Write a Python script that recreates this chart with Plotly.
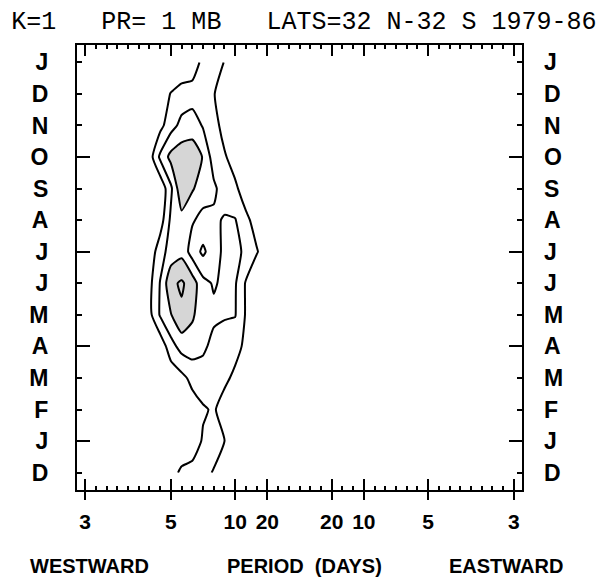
import plotly.graph_objects as go

# ---------------- data ----------------
title_text = "K=1   PR= 1 MB   LATS=32 N-32 S 1979-86"

month_index = list(range(14))
month_labels = ["D", "J", "F", "M", "A", "M", "J", "J", "A", "S", "O", "N", "D", "J"]
major_month_index = [1, 4, 7, 10]

period_tick_freqs = [-1/3, -1/5, -1/10, -1/20, 1/20, 1/10, 1/5, 1/3]
period_tick_labels = ["3", "5", "10", "20", "20", "10", "5", "3"]

# westward frequency bins (cycles/day, negative = westward), bins of 1/60 cpd
freq_bins = [-15/60, -14/60, -13/60, -12/60, -11/60, -10/60, -9/60,
             -8/60, -7/60, -6/60, -5/60, -4/60, -3/60, -2/60]

# power, one row per month (Dec 1978 ... Jan), one value per frequency bin
power_rows = [
    [0, 0, 0, 0.6, 1.2, 1.3, 1.2, 0.95, 0.5, 0, 0, 0, 0, 0],          # D
    [0, 0, 0, 0, 0.2, 0.5, 1.1, 1.3, 1.02, 0.4, 0, 0, 0, 0],          # J
    [0, 0, 0, 0, 0.3, 0.5, 0.9, 1.1, 0.6, 0.2, 0, 0, 0, 0],           # F
    [0, 0, 0, 0.3, 0.7, 1.3, 1.5, 1.4, 1.2, 0.8, 0.2, 0, 0, 0],       # M
    [0, 0, 0.3, 1.6, 2.4, 2.5, 2.2, 1.7, 1.5, 1.3, 0.8, 0, 0, 0],     # A
    [0, 0.7, 2.1, 2.95, 3.8, 3.15, 2.4, 2.2, 2.1, 2.05, 0.9, 0, 0, 0],  # M
    [0, 0.7, 2.05, 3.75, 4.15, 3.5, 2.3, 1.9, 2.2, 2.1, 0.9, 0, 0, 0],  # J
    [0, 0.3, 1.6, 2.4, 2.7, 1.55, 0.8, 1.6, 2.2, 2.2, 1.85, 1.1, 0.3, 0],  # J
    [0, 0, 0.5, 2.2, 2.65, 2.1, 1.7, 1.8, 2.1, 2.05, 1.3, 0.5, 0, 0],  # A
    [0, 0, 0.2, 1.8, 3.8, 3.1, 2.5, 2.2, 1.5, 1.25, 0.3, 0, 0, 0],    # S
    [0, 0.5, 2.2, 3.3, 3.6, 3.5, 2.95, 1.5, 1.15, 0.4, 0, 0, 0, 0],   # O
    [0, 0, 0.7, 1.6, 2.3, 2.6, 1.9, 1.5, 0.5, 0, 0, 0, 0, 0],         # N
    [0, 0, 0.4, 1.05, 1.4, 1.45, 1.4, 1.05, 0.5, 0, 0, 0, 0, 0],      # D
    [0, 0, 0, 0, 0.2, 0.4, 1.3, 1.6, 0.95, 0.3, 0, 0, 0, 0],          # J
]

contour_start, contour_end, contour_step = 1, 4, 1
stipple_level = 3

# ---------------- figure ----------------
label_font = dict(family="Liberation Sans", size=23, color="black", weight="bold")
tick_font = dict(family="Liberation Sans", size=21, color="black", weight="bold")
bottom_font = dict(family="Liberation Sans", size=20, color="black", weight="bold")

fig = go.Figure()
# stippled area: plotly shades the region that violates the constraint,
# so "< stipple_level" shades where power >= stipple_level
fig.add_trace(go.Contour(
    x=freq_bins, y=month_index, z=power_rows,
    contours=dict(type="constraint", operation="<", value=stipple_level),
    fillcolor="rgba(0,0,0,0.16)",
    line=dict(width=0, color="rgba(0,0,0,0)"),
    showscale=False, hoverinfo="skip",
))
fig.add_trace(go.Contour(
    x=freq_bins, y=month_index, z=power_rows,
    contours=dict(start=contour_start, end=contour_end, size=contour_step, coloring="lines"),
    colorscale=[[0, "black"], [1, "black"]],
    line=dict(width=2, smoothing=0.5),
    showscale=False, hoverinfo="skip",
))
# empty traces so the helper axes are drawn
fig.add_trace(go.Scatter(x=[], y=[], xaxis="x2", yaxis="y", showlegend=False))
fig.add_trace(go.Scatter(x=[], y=[], xaxis="x", yaxis="y2", showlegend=False))
fig.add_trace(go.Scatter(x=[], y=[], xaxis="x", yaxis="y3", showlegend=False))

xr = [-0.346, 0.346]
yr = [-0.55, 13.55]

fig.update_layout(
    width=599, height=571,
    margin=dict(l=69, r=85, t=37, b=89, autoexpand=False),
    paper_bgcolor="white", plot_bgcolor="white",
    showlegend=False,
    title=dict(text=title_text, x=0.494, xref="container", xanchor="center",
               y=1 - 12 / 571, yref="container", yanchor="middle",
               font=dict(family="Liberation Mono", size=25, color="black")),
    xaxis=dict(range=xr, tickmode="array", tickvals=period_tick_freqs, ticktext=period_tick_labels,
               ticks="inside", ticklen=11, tickwidth=2, tickcolor="black",
               showline=True, linewidth=2, linecolor="black", mirror="ticks",
               showgrid=False, zeroline=False, tickfont=tick_font, ticklabelstandoff=12,
               automargin=False,
               minor=dict(ticks="inside", ticklen=4, tickwidth=1.5, tickcolor="black",
                          tickmode="linear", tick0=0, dtick=1/60, showgrid=False)),
    xaxis2=dict(range=xr, overlaying="x", matches="x", anchor="y", side="bottom",
                tickmode="array", tickvals=period_tick_freqs, ticks="outside", ticklen=9,
                tickwidth=2, tickcolor="black", showticklabels=False, automargin=False,
                showgrid=False, zeroline=False, showline=False),
    yaxis=dict(range=yr, tickmode="array", tickvals=month_index, ticktext=month_labels,
               ticks="inside", ticklen=5, tickwidth=1.5, tickcolor="black",
               showline=True, linewidth=2, linecolor="black", mirror="ticks",
               showgrid=False, zeroline=False, tickfont=label_font, ticklabelstandoff=22,
               automargin=False),
    yaxis2=dict(range=yr, overlaying="y", matches="y", anchor="x", side="left",
                tickmode="array", tickvals=major_month_index, ticks="inside", ticklen=13,
                tickwidth=1.5, tickcolor="black", mirror="ticks", showticklabels=False,
                showgrid=False, zeroline=False, showline=False, automargin=False),
    yaxis3=dict(range=yr, overlaying="y", matches="y", anchor="x", side="right",
                tickmode="array", tickvals=month_index, ticktext=month_labels, ticks="",
                showgrid=False, zeroline=False, showline=False, automargin=False,
                tickfont=label_font, ticklabelstandoff=21),
    annotations=[
        dict(text="WESTWARD", xref="paper", yref="paper", x=0.029, y=-0.171,
             xanchor="center", yanchor="middle", showarrow=False, font=bottom_font),
        dict(text="PERIOD&nbsp;&nbsp;(DAYS)", xref="paper", yref="paper", x=0.512, y=-0.171,
             xanchor="center", yanchor="middle", showarrow=False, font=bottom_font),
        dict(text="EASTWARD", xref="paper", yref="paper", x=0.963, y=-0.171,
             xanchor="center", yanchor="middle", showarrow=False, font=bottom_font),
    ],
)

fig.write_html("out.html")
